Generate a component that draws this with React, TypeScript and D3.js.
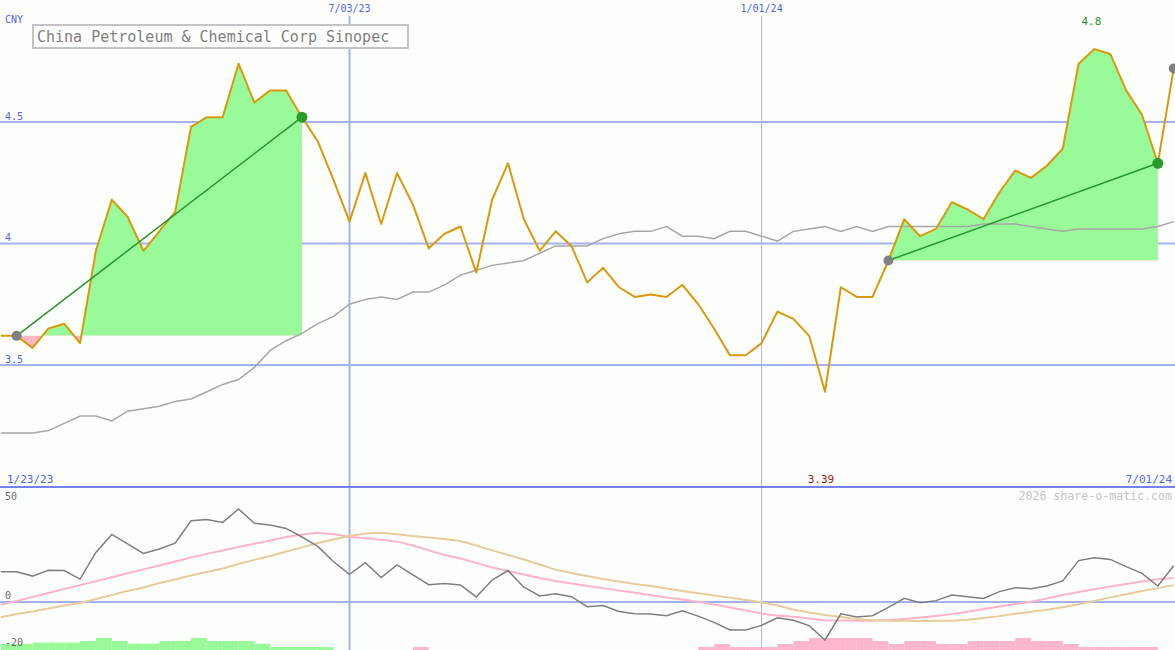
import React, { useEffect, useRef } from 'react';
import * as d3 from 'd3';

const WIDTH = 1175;
const HEIGHT = 650;

const TITLE = 'China Petroleum & Chemical Corp Sinopec';
const CURRENCY = 'CNY';
const START_LABEL = '1/23/23';
const END_LABEL = '7/01/24';
const WATERMARK = '2026 share-o-matic.com';

// weekly closes, one point per week
const closes = [
  3.62, 3.62, 3.57, 3.65, 3.67, 3.59, 3.97, 4.18, 4.11, 3.97,
  4.05, 4.13, 4.48, 4.52, 4.52, 4.74, 4.58, 4.63, 4.63, 4.52,
  4.42, 4.26, 4.09, 4.29, 4.08, 4.29, 4.16, 3.98, 4.04, 4.07,
  3.88, 4.18, 4.33, 4.1, 3.97, 4.05, 3.99, 3.84, 3.9, 3.82,
  3.78, 3.79, 3.78, 3.83, 3.75, 3.65, 3.54, 3.54, 3.59, 3.72,
  3.69, 3.62, 3.39, 3.82, 3.78, 3.78, 3.93, 4.1, 4.03, 4.06,
  4.17, 4.14, 4.1, 4.21, 4.3, 4.27, 4.32, 4.39, 4.74, 4.8,
  4.78, 4.63, 4.53, 4.33, 4.72,
];

const movingAverage = [
  3.22, 3.22, 3.22, 3.23, 3.26, 3.29, 3.29, 3.27, 3.31, 3.32,
  3.33, 3.35, 3.36, 3.39, 3.42, 3.44, 3.49, 3.56, 3.6, 3.63,
  3.67, 3.7, 3.75, 3.77, 3.78, 3.77, 3.8, 3.8, 3.83, 3.87,
  3.89, 3.91, 3.92, 3.93, 3.96, 3.99, 3.99, 3.99, 4.02, 4.04,
  4.05, 4.05, 4.07, 4.03, 4.03, 4.02, 4.05, 4.05, 4.03, 4.01,
  4.05, 4.06, 4.07, 4.05, 4.07, 4.05, 4.07, 4.07, 4.07, 4.07,
  4.07, 4.07, 4.08, 4.08, 4.08, 4.07, 4.06, 4.05, 4.06, 4.06,
  4.06, 4.06, 4.06, 4.07, 4.09,
];

const momentum = [
  13.1, 13.1, 11.2, 13.7, 13.6, 9.9, 21.4, 29.2, 25.1, 21.0,
  22.9, 25.4, 35.1, 35.6, 34.4, 40.2, 34.0, 33.3, 31.8, 28.1,
  24.0, 17.4, 12.0, 17.0, 10.6, 16.0, 11.7, 7.5, 8.0, 7.4,
  2.2, 9.5, 13.6, 6.4, 2.6, 3.6, 2.3, -2.0, -1.5, -4.1,
  -5.1, -5.2, -5.9, -3.8, -6.1, -8.8, -12.1, -12.1, -10.1, -6.8,
  -7.9, -10.2, -16.4, -5.1, -6.5, -5.9, -2.3, 1.6, -0.3, 0.6,
  3.0, 2.3, 1.5, 4.5, 6.2, 5.7, 6.9, 9.1, 17.9, 19.1,
  18.4, 15.3, 12.4, 6.9, 15.7,
];

const signalFast = [
  -1.2, 0.5, 2.2, 3.9, 5.6, 7.3, 9.0, 10.7, 12.4, 14.1,
  15.8, 17.5, 19.2, 20.8, 22.3, 23.8, 25.2, 26.6, 28.1, 29.2,
  29.9, 29.3, 28.2, 27.6, 26.9, 26.1, 24.4, 22.3, 20.3, 18.8,
  16.9, 14.9, 13.4, 11.9, 10.4, 9.1, 8.0, 6.9, 6.0, 5.0,
  4.0, 3.0, 2.0, 1.1, 0.1, -1.1, -2.4, -3.7, -5.0, -5.8,
  -6.4, -7.1, -8.0, -8.0, -8.1, -8.1, -7.8, -7.3, -6.7, -6.0,
  -5.2, -4.2, -3.0, -1.9, -0.9, 0.1, 1.5, 3.0, 4.3, 5.5,
  6.7, 7.8, 8.9, 9.8, 10.4,
];

const signalSlow = [
  -6.6, -5.2, -4.1, -2.8, -1.5, -0.4, 1.3, 3.0, 4.8, 6.3,
  8.2, 9.7, 11.5, 13.0, 14.5, 16.4, 18.2, 19.9, 21.8, 23.6,
  25.5, 27.0, 28.5, 29.6, 29.9, 29.3, 28.5, 27.9, 27.2, 26.4,
  24.4, 22.3, 20.3, 18.4, 16.2, 14.0, 12.5, 11.2, 9.9, 8.9,
  7.8, 6.9, 5.8, 4.8, 3.8, 2.8, 1.9, 0.9, -0.1, -1.5,
  -3.2, -4.5, -5.6, -6.5, -7.3, -7.9, -8.1, -8.1, -8.2, -8.1,
  -8.1, -7.7, -6.9, -6.1, -5.1, -4.2, -3.3, -2.3, -1.0, 0.5,
  2.0, 3.4, 4.8, 6.0, 7.2,
];

const histogram = [
  2.6, 2.6, 3.2, 3.2, 3.2, 3.9, 5.2, 3.9, 2.7, 2.7,
  3.9, 3.9, 5.2, 3.9, 3.9, 3.9, 2.7, 1.3, 1.3, 1.3,
  1.3, 0, 0, 0, 0, 0, -1.3, 0, 0, 0,
  0, 0, 0, 0, 0, 0, 0, 0, 0, 0,
  0, 0, 0, 0, -1.3, -2.6, -1.3, -1.3, -1.3, -2.6,
  -3.9, -5.2, -5.2, -5.2, -5.2, -3.9, -2.6, -3.9, -3.9, -2.6,
  -2.6, -3.9, -3.9, -3.9, -5.2, -3.9, -3.9, -2.6, -1.3, -1.3,
  -1.3, -1.3, -1.3, 0, 0,
];

const dateTicks = [
  { index: 22, label: '7/03/23', major: true },
  { index: 48, label: '1/01/24', major: false },
];
const priceTicks = [3.5, 4, 4.5];
const lowerTicks = [50, 0, -20];
const trendSpans: [number, number][] = [
  [1, 19],
  [56, 73],
];

const App: React.FC = () => {
  const svgRef = useRef<SVGSVGElement>(null);

  useEffect(() => {
    if (!svgRef.current) return;
    const svg = d3.select(svgRef.current);
    svg.selectAll('*').remove();

    const font = "'DejaVu Sans Mono', 'Liberation Mono', monospace";
    const blue = '#5464ee';
    const grid = '#a4b2f2';

    const x = d3.scaleLinear().domain([0, closes.length - 1]).range([0.8, 1173.7]);
    const y = d3.scaleLinear().domain([3.5, 4.5]).range([365, 122]);
    const yLow = d3.scaleLinear().domain([-20, 50]).range([648.3, 486.3]);
    const step = x(1) - x(0);
    const idx = closes.map((_d, i) => i);

    svg.append('rect').attr('width', WIDTH).attr('height', HEIGHT).attr('fill', '#fdfffd');

    // grid
    priceTicks.forEach((t) => {
      svg.append('line').attr('x1', 0).attr('x2', WIDTH).attr('y1', y(t)).attr('y2', y(t))
        .attr('stroke', grid).attr('stroke-width', 2);
      svg.append('text').attr('x', 5).attr('y', y(t) - 2.5).attr('fill', blue)
        .style('font-family', font).style('font-size', '10px').text(String(t));
    });
    svg.append('line').attr('x1', 0).attr('x2', WIDTH).attr('y1', yLow(0)).attr('y2', yLow(0))
      .attr('stroke', grid).attr('stroke-width', 2);

    dateTicks.forEach((t) => {
      svg.append('line').attr('x1', x(t.index)).attr('x2', x(t.index)).attr('y1', 16).attr('y2', HEIGHT)
        .attr('stroke', t.major ? grid : '#aab2e6').attr('stroke-width', t.major ? 2 : 1);
      svg.append('text').attr('x', x(t.index)).attr('y', 12).attr('text-anchor', 'middle').attr('fill', blue)
        .style('font-family', font).style('font-size', '10px').text(t.label);
    });

    svg.append('text').attr('x', 5).attr('y', 23).attr('fill', blue)
      .style('font-family', font).style('font-size', '10px').text(CURRENCY);

    // gain / loss fills between trend endpoints
    const defs = svg.append('defs');
    trendSpans.forEach(([a, b], k) => {
      const base = y(closes[a]);
      defs.append('clipPath').attr('id', `up-${k}`).append('rect')
        .attr('x', 0).attr('y', 0).attr('width', WIDTH).attr('height', base);
      defs.append('clipPath').attr('id', `dn-${k}`).append('rect')
        .attr('x', 0).attr('y', base).attr('width', WIDTH).attr('height', 487 - base);
      const span = idx.slice(a, b + 1);
      const area = d3.area<number>().x((i) => x(i)).y0(base).y1((i) => y(closes[i]));
      svg.append('path').attr('d', area(span)).attr('fill', '#98fa98').attr('clip-path', `url(#up-${k})`);
      svg.append('path').attr('d', area(span)).attr('fill', '#ffb6c6').attr('clip-path', `url(#dn-${k})`);
    });

    const lineOf = (vals: number[], scale: d3.ScaleLinear<number, number>) =>
      d3.line<number>().x((_d, i) => x(i)).y((d) => scale(d))(vals);

    svg.append('path').attr('d', lineOf(movingAverage, y)).attr('fill', 'none')
      .attr('stroke', '#a6a6a6').attr('stroke-width', 1.5);
    svg.append('path').attr('d', lineOf(closes, y)).attr('fill', 'none')
      .attr('stroke', '#da990c').attr('stroke-width', 2).attr('stroke-linejoin', 'round');

    trendSpans.forEach(([a, b]) => {
      svg.append('line').attr('x1', x(a)).attr('y1', y(closes[a])).attr('x2', x(b)).attr('y2', y(closes[b]))
        .attr('stroke', '#24962a').attr('stroke-width', 1.5);
      svg.append('circle').attr('cx', x(a)).attr('cy', y(closes[a])).attr('r', 5).attr('fill', '#808080');
      svg.append('circle').attr('cx', x(b)).attr('cy', y(closes[b])).attr('r', 5.5).attr('fill', '#2a9a2a');
    });
    const last = closes.length - 1;
    svg.append('circle').attr('cx', x(last)).attr('cy', y(closes[last])).attr('r', 5).attr('fill', '#808080');

    // extremes
    const hi = d3.maxIndex(closes);
    const lo = d3.minIndex(closes);
    svg.append('text').attr('x', x(hi) - 3).attr('y', 25).attr('text-anchor', 'middle').attr('fill', '#22922a')
      .style('font-family', font).style('font-size', '11px').text(String(closes[hi]));
    svg.append('text').attr('x', x(lo) - 4).attr('y', 483).attr('text-anchor', 'middle').attr('fill', '#a01818')
      .style('font-family', font).style('font-size', '11px').text(String(closes[lo]));

    // title
    svg.append('rect').attr('x', 33).attr('y', 25).attr('width', 375).attr('height', 23)
      .attr('fill', '#fdfffd').attr('stroke', '#c4c4c4').attr('stroke-width', 2);
    svg.append('text').attr('x', 37).attr('y', 41.5).attr('fill', '#808080')
      .style('font-family', font).style('font-size', '15px').text(TITLE);

    // divider and range labels
    svg.append('line').attr('x1', 0).attr('x2', WIDTH).attr('y1', 487).attr('y2', 487)
      .attr('stroke', '#7282f0').attr('stroke-width', 2);
    svg.append('text').attr('x', 7).attr('y', 483).attr('fill', blue)
      .style('font-family', font).style('font-size', '11px').text(START_LABEL);
    svg.append('text').attr('x', 1172).attr('y', 483).attr('text-anchor', 'end').attr('fill', blue)
      .style('font-family', font).style('font-size', '11px').text(END_LABEL);
    svg.append('text').attr('x', 1172).attr('y', 500).attr('text-anchor', 'end').attr('fill', '#c4c4c4')
      .style('font-family', font).style('font-size', '11.6px').text(WATERMARK);

    // lower panel
    svg.selectAll('rect.hist').data(histogram).enter().append('rect').attr('class', 'hist')
      .attr('x', (_d, i) => x(i)).attr('width', step)
      .attr('y', (d) => HEIGHT - (yLow(0) - yLow(Math.abs(d))))
      .attr('height', (d) => yLow(0) - yLow(Math.abs(d)))
      .attr('fill', (d) => (d >= 0 ? '#98fa98' : '#fdb6cc'));

    svg.append('path').attr('d', lineOf(signalFast, yLow)).attr('fill', 'none')
      .attr('stroke', '#fdb4c8').attr('stroke-width', 2);
    svg.append('path').attr('d', lineOf(signalSlow, yLow)).attr('fill', 'none')
      .attr('stroke', '#e6cc9c').attr('stroke-width', 2);
    svg.append('path').attr('d', lineOf(momentum, yLow)).attr('fill', 'none')
      .attr('stroke', '#7e7e7e').attr('stroke-width', 1.5);

    const lowBaselines: Record<number, number> = { 50: 499.5, 0: 598.5, [-20]: 645.5 };
    lowerTicks.forEach((t) => {
      svg.append('text').attr('x', 5).attr('y', lowBaselines[t]).attr('fill', '#6a6a6a')
        .style('font-family', font).style('font-size', '10px').text(String(t));
    });
  }, []);

  return (
    <div style={{ position: 'fixed', left: 0, top: 0, width: WIDTH, height: HEIGHT }}>
      <svg ref={svgRef} width={WIDTH} height={HEIGHT} style={{ display: 'block' }} />
    </div>
  );
};

export default App;
